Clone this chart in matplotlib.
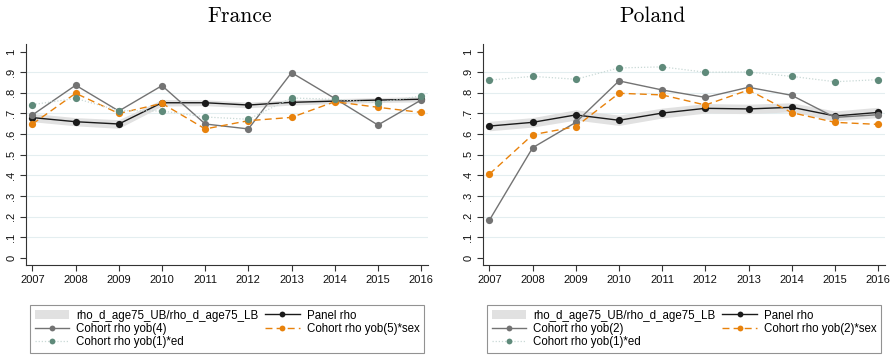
import numpy as np
import matplotlib
matplotlib.use("Agg")
import matplotlib.pyplot as plt
from matplotlib.patches import Patch
from matplotlib.lines import Line2D

years = [2007, 2008, 2009, 2010, 2011, 2012, 2013, 2014, 2015, 2016]

# France
fr_panel = [0.680, 0.660, 0.649, 0.752, 0.752, 0.741, 0.754, 0.760, 0.765, 0.769]
fr_ub = [0.700, 0.680, 0.670, 0.768, 0.766, 0.755, 0.767, 0.772, 0.777, 0.782]
fr_lb = [0.660, 0.640, 0.628, 0.736, 0.738, 0.727, 0.741, 0.748, 0.753, 0.756]
fr_cohort = [0.693, 0.837, 0.712, 0.835, 0.649, 0.625, 0.898, 0.773, 0.644, 0.765]
fr_sex = [0.649, 0.798, 0.700, 0.749, 0.625, 0.665, 0.681, 0.757, 0.730, 0.705]
fr_ed = [0.743, 0.773, 0.714, 0.712, 0.683, 0.672, 0.775, 0.769, 0.752, 0.785]

# Poland
pl_panel = [0.639, 0.657, 0.693, 0.667, 0.702, 0.725, 0.722, 0.730, 0.688, 0.705]
pl_ub = [0.662, 0.680, 0.718, 0.692, 0.726, 0.748, 0.745, 0.752, 0.712, 0.730]
pl_lb = [0.616, 0.634, 0.668, 0.642, 0.678, 0.702, 0.699, 0.708, 0.664, 0.680]
pl_cohort = [0.183, 0.534, 0.657, 0.858, 0.814, 0.778, 0.827, 0.788, 0.681, 0.694]
pl_sex = [0.406, 0.597, 0.636, 0.798, 0.790, 0.741, 0.814, 0.704, 0.657, 0.647]
pl_ed = [0.862, 0.880, 0.866, 0.921, 0.926, 0.900, 0.901, 0.880, 0.854, 0.864]

yticks = [0, 0.1, 0.2, 0.3, 0.4, 0.5, 0.6, 0.7, 0.8, 0.9, 1]
ytick_labels = ["0", ".1", ".2", ".3", ".4", ".5", ".6", ".7", ".8", ".9", "1"]

BLACK = "#1a1a1a"
GRAY = "#737373"
ORANGE = "#e8820c"
TEAL = "#5f8a7a"
TEAL_LINE = "#c9d9d6"
BAND = "#e1e1e1"

plt.rcParams["font.family"] = ["Liberation Sans", "DejaVu Sans"]

fig = plt.figure(figsize=(8.95, 3.55), dpi=100)

panels = [
    ("France", fr_panel, fr_ub, fr_lb, fr_cohort, fr_sex, fr_ed,
     "Cohort rho yob(4)", "Cohort rho yob(5)*sex", 26, 428, 30, 424, 240),
    ("Poland", pl_panel, pl_ub, pl_lb, pl_cohort, pl_sex, pl_ed,
     "Cohort rho yob(2)", "Cohort rho yob(2)*sex", 483, 885, 487, 881, 652),
]

W, H = 895.0, 355.0
mk = dict(marker="o", ms=5.2, mew=0)
for (name, panel, ub, lb, cohort, sex, ed, lab_c, lab_s,
     x0, x1, lx0, lx1, tx) in panels:
    ax = fig.add_axes([x0 / W, (H - 265) / H, (x1 - x0) / W, (265 - 44) / H])
    for g in yticks[1:-1]:
        ax.axhline(g, color="#e4eef0", lw=0.8, zorder=0)

    ax.fill_between(years, lb, ub, color=BAND, lw=0, zorder=1)
    ax.plot(years, panel, color=BLACK, lw=1.0, zorder=2, **mk)
    ax.plot(years, cohort, color=GRAY, lw=1.0, zorder=3, **mk)
    ax.plot(years, sex, color=ORANGE, lw=1.0, ls=(0, (5, 3)), zorder=4, **mk)
    ax.plot(years, ed, color=TEAL_LINE, lw=0.9, ls=(0, (1, 1.5)),
            mfc=TEAL, zorder=5, **mk)

    ax.set_xlim(2006.85, 2016.16)
    ax.set_ylim(-0.035, 1.037)
    ax.set_xticks(years)
    ax.set_xticklabels([str(y) for y in years], fontsize=8)
    ax.set_yticks(yticks)
    ax.set_yticklabels(ytick_labels, fontsize=8, rotation=90, va="center")
    ax.tick_params(axis="both", length=4, width=0.8, color="#333333",
                   pad=3, labelcolor="#111111")
    for s in ("top", "right"):
        ax.spines[s].set_visible(False)
    for s in ("left", "bottom"):
        ax.spines[s].set_color("#333333")
        ax.spines[s].set_linewidth(0.8)

    fig.text(tx / W, 1 - 16 / H, name, ha="center", va="center",
             fontsize=15.5, family="cmr10")

    lmk = dict(marker="o", ms=4.2, mew=0)
    handles = [
        Patch(facecolor=BAND, edgecolor="none"),
        Line2D([], [], color=GRAY, lw=1.0, **lmk),
        Line2D([], [], color=TEAL_LINE, lw=0.9, ls=(0, (1, 1.5)),
               mfc=TEAL, **lmk),
        Line2D([], [], color=BLACK, lw=1.0, **lmk),
        Line2D([], [], color=ORANGE, lw=1.0, ls=(0, (5, 3)), **lmk),
    ]
    labels = ["rho_d_age75_UB/rho_d_age75_LB", lab_c, "Cohort rho yob(1)*ed",
              "Panel rho", lab_s]
    leg = ax.legend(handles, labels, ncol=2, loc="lower left",
                    bbox_to_anchor=(lx0 / W, 2 / H, (lx1 - lx0) / W, 51 / H),
                    bbox_transform=fig.transFigure, mode="expand",
                    borderaxespad=0, fontsize=8.3, frameon=True,
                    fancybox=False, handlelength=3.0, handleheight=0.9,
                    labelspacing=0.12, columnspacing=0.8, borderpad=0.4,
                    handletextpad=0.6)
    leg.get_frame().set_edgecolor("#777777")
    leg.get_frame().set_linewidth(0.8)

fig.savefig("out.png", dpi=100)
